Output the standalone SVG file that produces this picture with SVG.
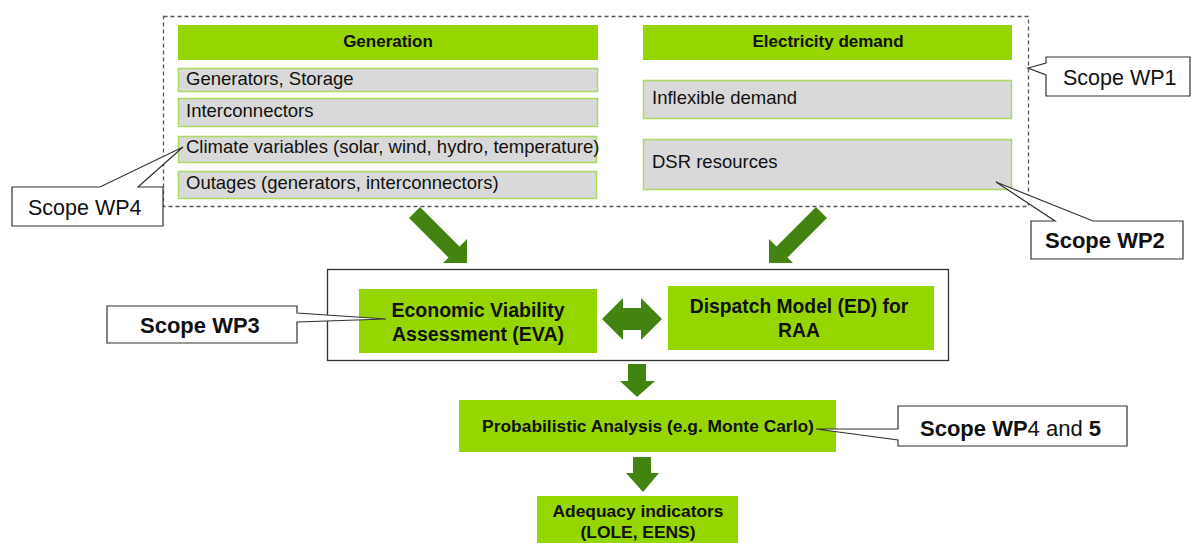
<svg xmlns="http://www.w3.org/2000/svg" width="1193" height="543" viewBox="0 0 1193 543">
<style>
.hdr{fill:#95D600}
.item{fill:#D9D9D9;stroke:#A9DB5F;stroke-width:1.5}
.grn{fill:#95D600}
.arw{fill:#43830F}
.call{fill:#fff;stroke:#333;stroke-width:1.2}
.t{font-family:"Liberation Sans",Arial,sans-serif;fill:#111}
.b{font-weight:bold}
.reg{font-size:18.5px}
</style>
<rect width="1193" height="543" fill="#fff"/>
<g id="scope-wp1-area">
<rect x="163.5" y="16.5" width="865" height="190" fill="none" stroke="#555" stroke-width="1.3" stroke-dasharray="4,3"/>
</g>
<g id="generation">
<rect class="hdr" x="178" y="25" width="420" height="35"/>
<text class="t b" x="388" y="47" font-size="17" text-anchor="middle">Generation</text>
</g>
<g id="generators-storage">
<rect class="item" x="178.5" y="68.5" width="419" height="23"/>
<text class="t reg" x="186" y="85">Generators, Storage</text>
</g>
<g id="interconnectors">
<rect class="item" x="178.5" y="98.5" width="419" height="28"/>
<text class="t reg" x="186" y="117">Interconnectors</text>
</g>
<g id="climate">
<rect class="item" x="178.5" y="136.5" width="418" height="26"/>
<text class="t reg" x="186" y="153">Climate variables (solar, wind, hydro, temperature)</text>
</g>
<g id="outages">
<rect class="item" x="178.5" y="171.5" width="418" height="27"/>
<text class="t reg" x="186" y="189">Outages (generators, interconnectors)</text>
</g>
<g id="electricity-demand">
<rect class="hdr" x="643" y="25" width="369" height="35"/>
<text class="t b" x="828" y="47" font-size="17" text-anchor="middle">Electricity demand</text>
</g>
<g id="inflexible-demand">
<rect class="item" x="643.5" y="80.5" width="368" height="38"/>
<text class="t reg" x="652" y="104">Inflexible demand</text>
</g>
<g id="dsr">
<rect class="item" x="643.5" y="139.5" width="368" height="50"/>
<text class="t reg" x="652" y="168">DSR resources</text>
</g>
<g id="model-box">
<rect x="327.5" y="269.5" width="621" height="91" fill="none" stroke="#333" stroke-width="1.3"/>
</g>
<g id="eva">
<rect class="grn" x="359" y="289" width="238" height="64"/>
<text class="t b" x="478" y="317" font-size="19.5" text-anchor="middle">Economic Viability</text>
<text class="t b" x="478" y="341" font-size="19.5" text-anchor="middle">Assessment (EVA)</text>
</g>
<g id="dispatch">
<rect class="grn" x="668" y="286" width="266" height="64"/>
<text class="t b" x="799" y="313" font-size="19.3" text-anchor="middle">Dispatch Model (ED) for</text>
<text class="t b" x="799" y="337" font-size="19.3" text-anchor="middle">RAA</text>
</g>
<g id="probabilistic">
<rect class="grn" x="459" y="400" width="377" height="52"/>
<text class="t b" x="648" y="432" font-size="17.4" text-anchor="middle">Probabilistic Analysis (e.g. Monte Carlo)</text>
</g>
<g id="adequacy">
<rect class="grn" x="537" y="496" width="201" height="47"/>
<text class="t b" x="638" y="517" font-size="17.4" text-anchor="middle">Adequacy indicators</text>
<text class="t b" x="638" y="538" font-size="17.4" text-anchor="middle">(LOLE, EENS)</text>
</g>
<g id="scope-wp1">
<path class="call" d="M1046,57 H1190 V96 H1046 V75 L1028,68 L1046,63 Z"/>
<text class="t" x="1063" y="85" font-size="21.5">Scope WP1</text>
</g>
<g id="scope-wp4">
<path class="call" d="M12,187 H100 L183,147 L138,187 H163 V226 H12 Z"/>
<text class="t" x="28" y="215" font-size="21.5">Scope WP4</text>
</g>
<g id="scope-wp2">
<path class="call" d="M1031,221 H1055 L996,182 L1093,221 H1183 V259 H1031 Z"/>
<text class="t b" x="1045" y="248" font-size="22">Scope WP2</text>
</g>
<g id="scope-wp3">
<path class="call" d="M107,306 H297 V313 L386,319 L297,322 V343 H107 Z"/>
<text class="t b" x="140" y="333" font-size="22">Scope WP3</text>
</g>
<g id="scope-wp45">
<path class="call" d="M898,406 H1127 V446 H898 V440 L816,429 L898,429 Z"/>
<text class="t" x="920" y="436" font-size="22"><tspan font-weight="bold">Scope WP</tspan>4 and <tspan font-weight="bold">5</tspan></text>
</g>
<g id="connectors">
<polygon class="arw" points="409,218 420,207 459.5,246.5 467,239 467,263 443,263 448.5,257.5"/>
<polygon class="arw" points="827,218 816,207 776.5,246.5 769,239 769,263 793,263 787.5,257.5"/>
<polygon class="arw" points="602,319 623,298 623,308 641,308 641,298 662,319 641,340 641,330 623,330 623,340"/>
<polygon class="arw" points="628,364 646,364 646,381 655,381 637,397 620,381 628,381"/>
<polygon class="arw" points="633,457 651,457 651,473 659,473 643,492 626,473 633,473"/>
</g>
</svg>
